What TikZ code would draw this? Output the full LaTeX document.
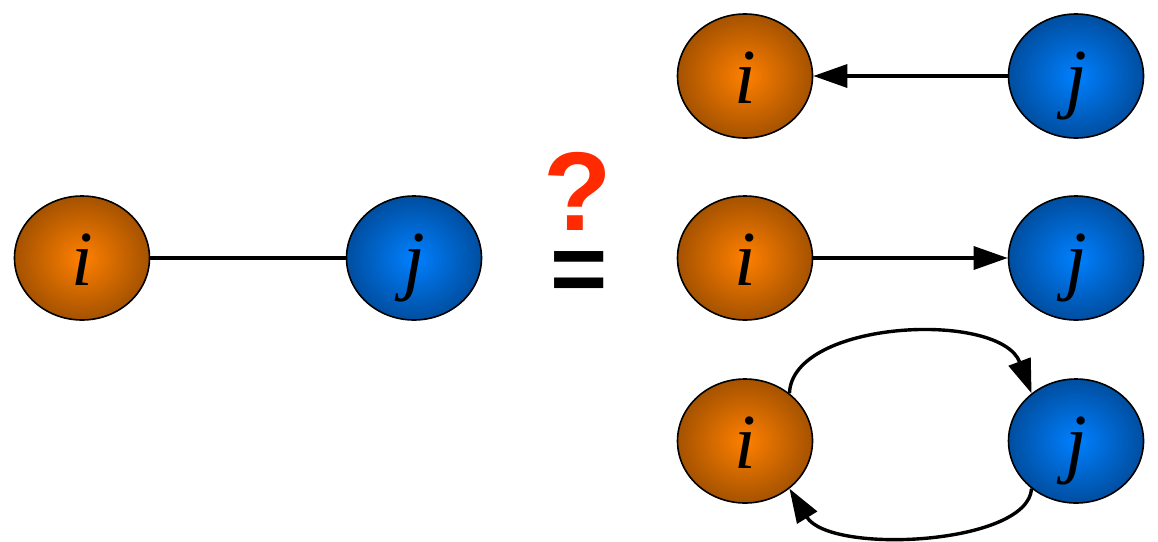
\documentclass[tikz,border=0pt]{standalone}
\usepackage{fontspec}
\setmainfont{Liberation Serif}
\newfontfamily\symfont{Liberation Sans}
\usetikzlibrary{arrows.meta,shapes.geometric}
\definecolor{orin}{RGB}{255,128,0}
\definecolor{orout}{RGB}{165,82,0}
\definecolor{blin}{RGB}{0,128,255}
\definecolor{blout}{RGB}{0,78,160}
\definecolor{qred}{RGB}{255,42,0}
\tikzset{
  vert/.style={ellipse, draw=black, line width=1.6pt, minimum width=135pt, minimum height=124pt, inner sep=0pt,
    font=\fontsize{78}{80}\selectfont\itshape, text height=54pt, text depth=0pt},
  vi/.style={vert, shading=radial, inner color=orin, outer color=orout},
  vj/.style={vert, shading=radial, inner color=blin, outer color=blout},
  edge/.style={line width=3.2pt},
  arr/.style={line width=3.4pt, -{Triangle[length=34pt,width=23pt]}},
}
\begin{document}
\begin{tikzpicture}[x=1pt,y=-1pt]
\useasboundingbox (0,0) rectangle (1158,541);
\node[vi] (Li) at (82,258) {i};
\node[vj] (Lj) at (414,258) {j};
\draw[edge] (Li) -- (Lj);
\node[font=\symfont\bfseries\fontsize{112}{116}\selectfont, text=qred, inner sep=0pt] (q) at (578,191) {?};
\node[font=\symfont\bfseries\fontsize{98}{104}\selectfont, inner sep=0pt] (eq) at (579,277) {=};
\node[vi] (Ai) at (745,76) {i};
\node[vj] (Aj) at (1076,76) {j};
\draw[arr] (Aj) -- (Ai);
\node[vi] (Bi) at (745,258) {i};
\node[vj] (Bj) at (1076,258) {j};
\draw[arr] (Bi) -- (Bj);
\node[vi] (Ci) at (745,441) {i};
\node[vj] (Cj) at (1076,441) {j};
\draw[arr] (Ci.47) .. controls (792,320) and (1000,310) .. (Cj.133);
\draw[arr] (Cj.-133) .. controls (1028,545) and (830,555) .. (Ci.-47);
\end{tikzpicture}
\end{document}
